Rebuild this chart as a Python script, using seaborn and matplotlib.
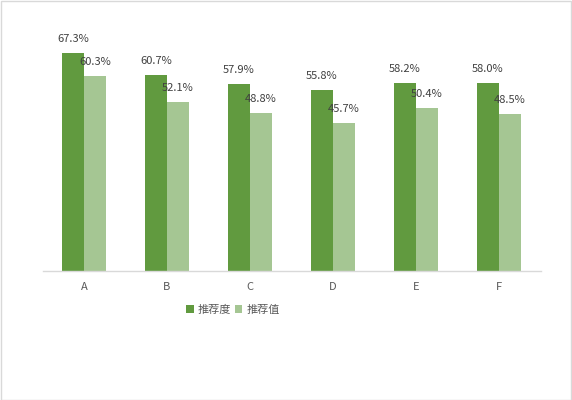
import matplotlib
matplotlib.use("Agg")
import matplotlib.pyplot as plt
import seaborn as sns
import pandas as pd
from matplotlib.patches import Rectangle

categories = ["A", "B", "C", "D", "E", "F"]
series_names = ["推荐度", "推荐值"]
recommend_degree = [67.3, 60.7, 57.9, 55.8, 58.2, 58.0]
recommend_value = [60.3, 52.1, 48.8, 45.7, 50.4, 48.5]

df = pd.DataFrame({
    "cat": categories * 2,
    "series": [series_names[0]] * 6 + [series_names[1]] * 6,
    "val": recommend_degree + recommend_value,
})

sns.set_theme(style="white")
plt.rcParams['font.family'] = ['Noto Sans CJK SC', 'DejaVu Sans']

fig = plt.figure(figsize=(5.72, 4.0), dpi=100)
ax = fig.add_axes([42.5 / 572, 129 / 400, 498 / 572, 226.5 / 400])
palette = ["#619A3F", "#A5C693"]
sns.barplot(data=df, x="cat", y="val", hue="series", palette=palette,
            width=0.53, saturation=1, linewidth=0, ax=ax, legend=True)
ax.set_ylim(0, 70)
ax.set_xlim(-0.5, 5.5)
ax.set_xlabel("")
ax.set_ylabel("")
ax.set_yticks([])
for s in ["top", "right", "left"]:
    ax.spines[s].set_visible(False)
ax.spines["bottom"].set_color("#D9D9D9")
ax.spines["bottom"].set_linewidth(1)
ax.tick_params(axis="x", length=0, pad=8, labelsize=8, labelcolor="#595959")

for container in ax.containers:
    for bar in container:
        h = bar.get_height()
        ax.annotate(f"{h:.1f}%", (bar.get_x() + bar.get_width() / 2, h),
                    xytext=(0, 9), textcoords="offset pixels",
                    ha="center", va="bottom", fontsize=8, color="#404040",
                    annotation_clip=False)

leg = ax.legend(loc="center", bbox_to_anchor=(233 / 572, 1 - 310 / 400),
                bbox_transform=fig.transFigure, ncol=2, frameon=False,
                fontsize=8, handlelength=0.7, handleheight=0.7,
                handletextpad=0.4, columnspacing=0.3)
for t in leg.get_texts():
    t.set_color("#595959")

fig.patches.append(Rectangle((0.5 / 572, 0.5 / 400), 570.5 / 572, 398.5 / 400,
                             transform=fig.transFigure, fill=False,
                             edgecolor="#D9D9D9", linewidth=1))
fig.savefig("out.png", dpi=100)
